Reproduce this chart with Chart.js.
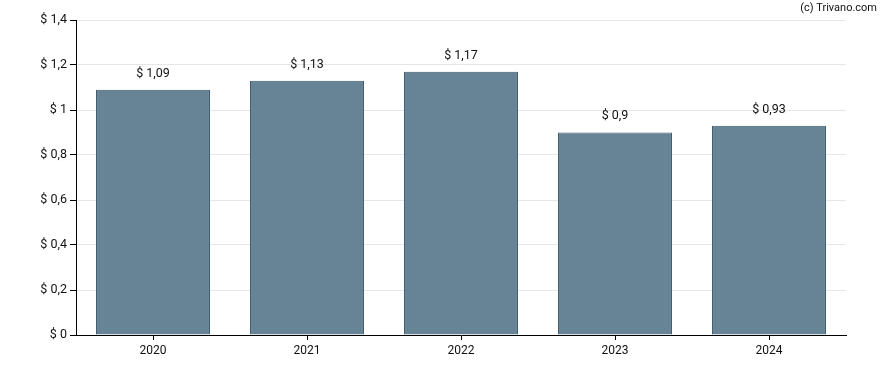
<!DOCTYPE html>
<html>
<head>
<meta charset="utf-8">
<script src="https://cdn.jsdelivr.net/npm/chart.js@4/dist/chart.umd.min.js"></script>
<style>
  html, body { margin: 0; padding: 0; background: #fff; }
  #wrap { width: 888px; height: 370px; }
</style>
</head>
<body>
<div id="wrap"><canvas id="dataChart" width="888" height="370"></canvas></div>
<script>
// dividend per year
const years = ["2020", "2021", "2022", "2023", "2024"];
const dividends = [1.09, 1.13, 1.17, 0.9, 0.93];
const yTicks = [0, 0.2, 0.4, 0.6, 0.8, 1, 1.2, 1.4];

const money = (v) => "$ " + String(Math.round(v * 100) / 100).replace(".", ",");

// labels over bars + copyright line
const labelsPlugin = {
  id: "barLabels",
  afterDatasetsDraw(chart) {
    const ctx = chart.ctx;
    const meta = chart.getDatasetMeta(0);
    ctx.save();
    ctx.font = "12.5px Roboto";
    ctx.fillStyle = "#111";
    ctx.textAlign = "center";
    ctx.textBaseline = "bottom";
    meta.data.forEach((bar, i) => {
      ctx.fillText(money(dividends[i]), bar.x, bar.y - 10);
    });
    ctx.font = "11px Roboto";
    ctx.textAlign = "right";
    ctx.textBaseline = "middle";
    ctx.fillText("(c) Trivano.com", 877, 8);
    ctx.restore();
  },
};

const ctx = document.getElementById("dataChart").getContext("2d");
new Chart(ctx, {
  type: "bar",
  data: {
    labels: years,
    datasets: [
      {
        data: dividends,
        backgroundColor: "rgba(103, 132, 150, 1)",
        borderColor: "rgba(66, 90, 108, 1)",
        borderWidth: 1,
        barPercentage: 0.74,
        categoryPercentage: 1,
      },
    ],
  },
  options: {
    responsive: false,
    animation: false,
    layout: { padding: { top: 20, right: 42, left: 0, bottom: 0 } },
    plugins: { legend: { display: false }, tooltip: { enabled: false } },
    scales: {
      x: {
        grid: { offset: false, drawOnChartArea: false, tickLength: 5, tickColor: "#000" },
        border: { color: "#000", width: 1 },
        ticks: { color: "#111", font: { family: "Roboto", size: 12 }, padding: 4 },
        afterFit: (s) => { s.height = 35; },
      },
      y: {
        min: 0,
        max: 1.4,
        afterBuildTicks: (s) => { s.ticks = yTicks.map((v) => ({ value: v })); },
        grid: { color: "#e6e6e6", tickLength: 6, tickColor: "#000" },
        border: { color: "#000", width: 1 },
        ticks: {
          color: "#111",
          font: { family: "Roboto", size: 12.5 },
          padding: 3,
          callback: (v) => money(v),
        },
        afterFit: (s) => { s.width = 76; },
      },
    },
  },
  plugins: [labelsPlugin],
});
</script>
</body>
</html>
